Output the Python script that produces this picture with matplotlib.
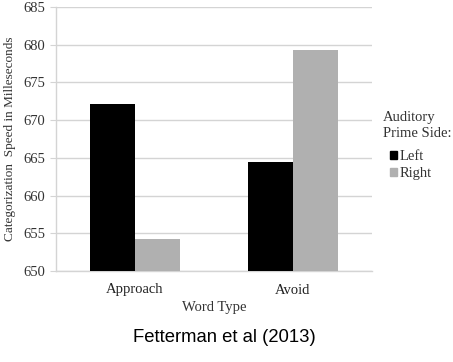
import matplotlib
matplotlib.use("Agg")
import matplotlib.pyplot as plt
import numpy as np
from matplotlib.patches import Patch

categories = ["Approach", "Avoid"]
left_vals = [672.1, 664.5]
right_vals = [654.3, 679.3]
yticks = [650, 655, 660, 665, 670, 675, 680, 685]

fig = plt.figure(figsize=(4.53, 3.62), dpi=100)
ax = fig.add_axes([56/453, 1-271/362, (372-56)/453, (271-7)/362])

x = np.arange(len(categories))
w = 0.285
serif = "Liberation Serif"
ax.bar(x - w/2, left_vals, w, color="black", zorder=3)
ax.bar(x + w/2, right_vals, w, color="#b0b0b0", zorder=3)

ax.set_xlim(-0.5, 1.5)
ax.set_ylim(650, 685)
ax.set_yticks(yticks)
ax.set_xticks(x)
ax.set_xticklabels(categories, fontfamily=serif, fontsize=10.5)
for lab in ax.get_yticklabels():
    lab.set_fontfamily(serif)
    lab.set_fontsize(10.5)
    lab.set_color("#333333")
for lab in ax.get_xticklabels():
    lab.set_color("#222222")
ax.yaxis.grid(True, color="#d4d4d4", linewidth=1, zorder=0)
ax.tick_params(axis="y", length=4, color="#d4d4d4", pad=4)
ax.tick_params(axis="x", length=0, pad=9)
for s in ["top", "right"]:
    ax.spines[s].set_visible(False)
for s in ["left", "bottom"]:
    ax.spines[s].set_color("#d4d4d4")
    ax.spines[s].set_linewidth(1)

ax.set_xlabel("Word Type", fontfamily=serif, fontsize=10.5, color="#333333", labelpad=3)
ax.set_ylabel("Categorization  Speed in Milleseconds", fontfamily=serif, fontsize=9.5, color="#333333", labelpad=5)

fig.text(383/453, 1-111/362, "Auditory\nPrime Side:", fontfamily=serif, fontsize=10.5, color="#333333", va="top", ha="left", linespacing=1.3)
handles = [Patch(color="black", label="Left"), Patch(color="#b0b0b0", label="Right")]
leg = fig.legend(handles=handles, loc="upper left", bbox_to_anchor=(377/453, 1-137/362),
                 frameon=False, prop={"family": serif, "size": 10.5},
                 handlelength=0.5, handleheight=0.5, handletextpad=0.15, labelspacing=0.3)
for t in leg.get_texts():
    t.set_color("#333333")

fig.text(224/453, 1-337/362, "Fetterman et al (2013)", fontfamily="Liberation Sans", fontsize=13.3, ha="center", va="center", color="black")

fig.savefig("out.png", dpi=100)
